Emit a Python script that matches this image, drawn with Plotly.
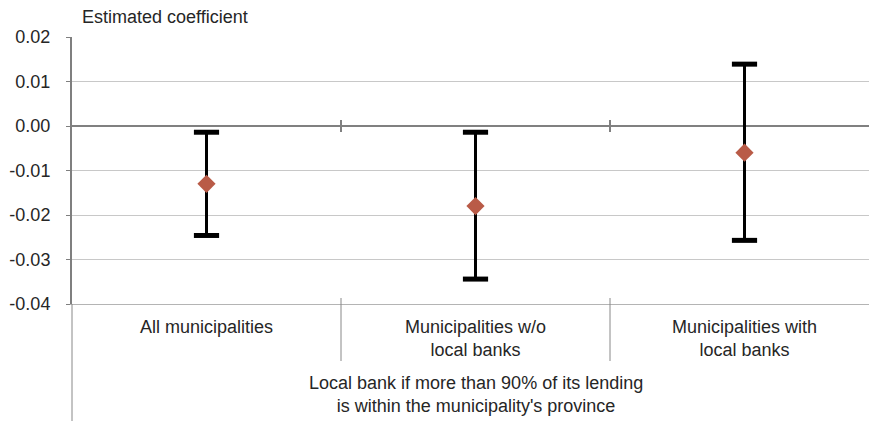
import plotly.graph_objects as go

# ---- data ----
categories = ["All municipalities", "Municipalities w/o<br>local banks", "Municipalities with<br>local banks"]
coef = [-0.013, -0.018, -0.006]
upper = [-0.0014, -0.0014, 0.0139]
lower = [-0.0246, -0.0344, -0.0257]
y_tickvals = [0.02, 0.01, 0.0, -0.01, -0.02, -0.03, -0.04]
y_ticktext = ["0.02", "0.01", "0.00", "-0.01", "-0.02", "-0.03", "-0.04"]
y_title = "Estimated coefficient"
group_note = "Local bank if more than 90% of its lending<br>is within the municipality's province"

xpos = list(range(len(categories)))
err_plus = [u - c for u, c in zip(upper, coef)]
err_minus = [c - l for c, l in zip(coef, lower)]

FONT = "Liberation Sans, Arial, sans-serif"
FS = 18
TXT = "#262626"
W, H = 869, 421
ML, MR, MT, MB = 72, 0, 37, 117
plot_h = H - MT - MB
plot_w = W - ML - MR
cat_px = 269.0
x_range = [-0.5, -0.5 + plot_w / cat_px]
y_range = [-0.04, 0.02]

def py(px):  # pixel y -> paper
    return (H - MB - px) / plot_h

def px_x(xval):  # data x -> paper
    return (xval - x_range[0]) / (x_range[1] - x_range[0])

fig = go.Figure()

# error bars (whiskers)
fig.add_trace(go.Scatter(
    x=xpos, y=coef, mode="markers",
    marker=dict(size=0.1, color="rgba(0,0,0,0)"),
    error_y=dict(type="data", symmetric=False, array=err_plus, arrayminus=err_minus,
                 color="black", thickness=3, width=0),
    hoverinfo="skip", showlegend=False))
# caps
fig.add_trace(go.Scatter(
    x=xpos + xpos, y=upper + lower, mode="markers",
    marker=dict(symbol="line-ew", size=18, line=dict(color="black", width=5)),
    hoverinfo="skip", showlegend=False))
# point estimates
fig.add_trace(go.Scatter(
    x=xpos, y=coef, mode="markers",
    marker=dict(symbol="diamond", size=14, color="#b95b47", line=dict(width=0)),
    showlegend=False))

fig.update_layout(
    width=W, height=H,
    margin=dict(l=ML, r=MR, t=MT, b=MB, pad=0),
    paper_bgcolor="white", plot_bgcolor="white",
    font=dict(family=FONT, size=FS, color=TXT),
    showlegend=False,
    xaxis=dict(range=x_range, showgrid=False, zeroline=False, showticklabels=False,
               ticks="", showline=True, linecolor="#b4b4b4", linewidth=1, mirror=False),
    yaxis=dict(range=y_range, tickvals=y_tickvals, ticktext=y_ticktext,
               showgrid=True, gridcolor="#c8c8c8", gridwidth=1,
               zeroline=True, zerolinecolor="#808080", zerolinewidth=2,
               showline=True, linecolor="#7f7f7f", linewidth=2,
               ticks="outside", ticklen=4, tickcolor="#7f7f7f", tickwidth=1,
               ticklabelstandoff=12,
               tickfont=dict(family=FONT, size=FS, color=TXT)),
)

shapes = []
# extension of y axis line through label area
shapes.append(dict(type="line", xref="paper", yref="paper", x0=0, x1=0,
                   y0=0, y1=py(421), line=dict(color="#888888", width=1)))
# category dividers in label area and tick marks on the zero line
for b in [0.5, 1.5]:
    shapes.append(dict(type="line", xref="paper", yref="paper",
                       x0=px_x(b), x1=px_x(b), y0=py(298), y1=py(361),
                       line=dict(color="#888888", width=1)))
    shapes.append(dict(type="line", xref="x", yref="y", x0=b, x1=b,
                       ysizemode="pixel", yanchor=0, y0=-6, y1=6,
                       line=dict(color="#808080", width=2)))
fig.update_layout(shapes=shapes)

ann = []
ann.append(dict(text=y_title, xref="paper", yref="paper", x=px_x(x_range[0]) + 8 / plot_w,
                y=py(17), xanchor="left", yanchor="middle", showarrow=False,
                font=dict(family=FONT, size=FS, color=TXT)))
for i, c in enumerate(categories):
    ann.append(dict(text=c, xref="x", yref="paper", x=xpos[i], y=py(315),
                    xanchor="center", yanchor="top", showarrow=False,
                    font=dict(family=FONT, size=FS, color=TXT)))
ann.append(dict(text=group_note, xref="x", yref="paper", x=1, y=py(371),
                xanchor="center", yanchor="top", showarrow=False,
                font=dict(family=FONT, size=FS, color=TXT)))
fig.update_layout(annotations=ann)

fig.write_html("out.html")
